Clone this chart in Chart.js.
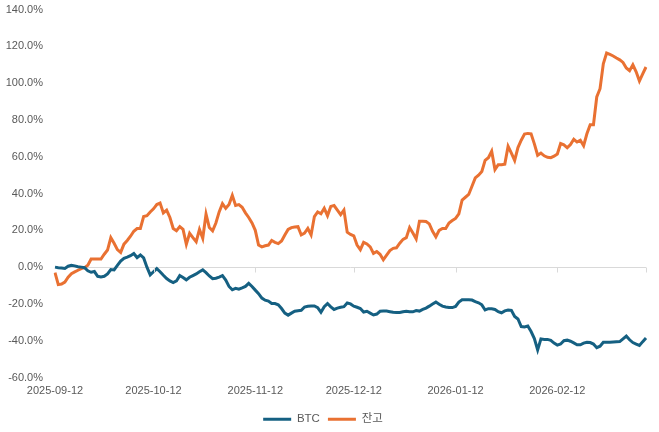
<!DOCTYPE html>
<html>
<head>
<meta charset="utf-8">
<script src="https://cdn.jsdelivr.net/npm/chart.js@4"></script>
<style>
  html, body { margin: 0; padding: 0; background: #fff; }
  #caja { width: 659px; height: 432px; }
</style>
</head>
<body>
<div id="caja"><canvas id="grafica"></canvas></div>
<script>
// dias desde 2025-09-12 (uno por dia)
var fecha_inicio = "2025-09-12"
var numero_dias = 181

var etiquetas_eje = ["2025-09-12", "2025-10-12", "2025-11-12", "2025-12-12", "2026-01-12", "2026-02-12"]

var btc = [
  0.0, -0.3, -0.5, -0.7, 0.5, 1.0, 0.7, 0.2, 0.0, -0.3,
  -2.0, -2.8, -2.4, -5.0, -5.3, -5.0, -3.7, -1.3, -1.5, 1.0,
  3.3, 4.8, 5.4, 6.2, 7.4, 5.2, 6.6, 5.0, 0.0, -4.2,
  -2.5, -0.8, -2.5, -4.4, -6.2, -7.5, -8.4, -7.5, -4.6, -5.6,
  -6.9, -5.5, -4.6, -3.7, -2.5, -1.5, -3.0, -4.8, -6.3, -6.0,
  -5.4, -4.6, -7.0, -10.5, -12.3, -11.5, -12.0, -11.3, -10.5, -8.8,
  -10.5, -12.5, -14.4, -16.8, -18.0, -18.5, -19.8, -19.8, -20.5, -22.5,
  -25.0, -26.1, -25.0, -24.0, -23.7, -23.5, -21.7, -21.3, -21.1, -21.1,
  -22.0, -24.5, -21.5, -19.8, -21.6, -23.0, -22.3, -21.8, -21.5, -19.5,
  -20.0, -21.2, -21.8, -22.5, -24.4, -24.0, -25.0, -26.0, -25.5, -24.0,
  -23.9, -23.9, -24.2, -24.5, -24.7, -24.7, -24.3, -24.0, -24.2, -24.3,
  -23.6, -23.9, -23.0, -22.3, -21.2, -20.0, -19.0, -20.2, -21.2, -21.7,
  -22.0, -22.0, -21.4, -19.0, -17.7, -17.7, -17.7, -17.9, -18.8, -19.4,
  -20.5, -23.3, -22.6, -22.6, -23.0, -24.2, -24.8, -23.8, -23.3, -23.5,
  -26.8, -28.2, -32.3, -32.5, -32.0, -35.0, -38.8, -45.0, -39.0, -39.3,
  -39.3, -39.8, -41.3, -42.4, -41.8, -40.0, -39.7, -40.3, -41.2, -42.2,
  -42.2, -41.3, -40.8, -41.0, -41.8, -43.8, -43.0, -40.8, -40.8, -40.8,
  -40.7, -40.6, -40.5, -39.0, -37.5, -39.5, -41.0, -41.8, -42.6, -40.5,
  -38.5
]

var saldo = [
  -3.0, -9.5, -9.2, -8.1, -5.5, -3.6, -2.6, -1.7, -0.8, -0.3,
  1.0, 4.4, 4.4, 4.4, 4.4, 7.0, 9.3, 16.0, 13.0, 9.5,
  8.0, 12.5, 14.5, 16.8, 19.5, 21.0, 21.0, 27.5, 28.0, 30.0,
  31.7, 34.0, 34.8, 29.5, 31.0, 27.0, 21.0, 19.8, 22.0, 20.5,
  12.4, 18.4, 16.0, 13.8, 20.5, 15.7, 28.8, 21.5, 19.7, 24.0,
  30.0, 34.5, 32.0, 34.0, 39.0, 33.5, 34.0, 32.5, 29.5, 27.0,
  24.0, 20.0, 12.0, 11.0, 11.6, 12.0, 14.5, 13.5, 12.8, 14.2,
  17.5, 20.5, 21.5, 21.8, 22.0, 17.5, 18.5, 21.0, 17.5, 27.5,
  30.0, 29.0, 32.0, 28.0, 33.0, 33.5, 31.0, 28.5, 31.0, 19.0,
  17.8, 17.0, 12.0, 9.5, 13.5, 12.6, 11.0, 7.5, 8.5, 7.0,
  4.0, 6.5, 9.0, 10.2, 10.5, 13.0, 15.1, 16.0, 21.5, 18.5,
  15.3, 24.9, 24.9, 24.8, 23.5, 19.5, 16.5, 20.0, 21.0, 21.0,
  24.0, 25.3, 26.5, 29.0, 36.5, 38.0, 39.5, 44.0, 48.5, 50.0,
  52.0, 58.0, 59.5, 63.0, 53.0, 55.7, 55.7, 56.0, 65.7, 62.0,
  58.0, 65.0, 69.0, 72.3, 72.7, 72.5, 67.0, 60.8, 62.0, 60.5,
  59.7, 59.5, 60.3, 61.5, 67.2, 66.5, 64.9, 66.7, 69.5, 68.0,
  69.0, 66.0, 72.5, 77.4, 77.4, 92.5, 97.0, 110.5, 116.4, 115.6,
  114.8, 113.7, 112.7, 111.3, 108.3, 106.8, 110.0, 106.2, 101.2, 105.0,
  108.8
]

function crear_fechas(inicio, n) {
    var partes = inicio.split("-")
    var lista = []
    for (var i = 0; i < n; i++) {
        var d = new Date(Date.UTC(+partes[0], +partes[1] - 1, +partes[2] + i))
        lista.push(d.toISOString().slice(0, 10))
    }
    return lista
}
var fechas = crear_fechas(fecha_inicio, numero_dias)

var color_texto = "#595959"
var fuente = "'Liberation Sans', Arial, 'Noto Sans CJK KR', sans-serif"

// marcas pequenas bajo la linea del 0, como en excel
var marcas_cero = {
    id: "marcas_cero",
    afterDatasetsDraw(chart) {
        var ctx = chart.ctx, x = chart.scales.x, y = chart.scales.y
        var y0 = Math.round(y.getPixelForValue(0)) + 0.5
        ctx.save()
        ctx.strokeStyle = "#d9d9d9"
        ctx.lineWidth = 1
        ctx.beginPath()
        etiquetas_eje.forEach(function (f) {
            var i = fechas.indexOf(f)
            if (i <= 0) return
            var px = Math.round(x.getPixelForValue(i)) + 0.5
            ctx.moveTo(px, y0)
            ctx.lineTo(px, y0 + 5)
        })
        var fin = Math.round(chart.chartArea.right) + 0.5
        ctx.moveTo(fin, y0)
        ctx.lineTo(fin, y0 + 5)
        ctx.stroke()
        ctx.restore()
    }
}

var carga = {
    type: "line",
    data: {
        labels: fechas,
        datasets: [
            { label: "BTC", data: btc, borderColor: "#156082", backgroundColor: "#156082",
              borderWidth: 3, pointRadius: 0, tension: 0, order: 1 },
            { label: "잔고", data: saldo, borderColor: "#E97132", backgroundColor: "#E97132",
              borderWidth: 3, pointRadius: 0, tension: 0, order: 2 }
        ]
    },
    options: {
        responsive: true,
        maintainAspectRatio: false,
        animation: false,
        layout: { padding: { top: 0, right: 13, left: 0, bottom: -3 } },
        plugins: {
            tooltip: { enabled: false },
            legend: {
                position: "bottom",
                labels: {
                    usePointStyle: true,
                    pointStyle: "line",
                    pointStyleWidth: 28,
                    boxHeight: 3,
                    padding: 8,
                    color: color_texto,
                    font: { family: fuente, size: 11.5 }
                }
            }
        },
        scales: {
            x: {
                afterFit: function (s) { s.height = 28 },
                grid: { display: false, drawTicks: false },
                border: { display: false },
                ticks: {
                    autoSkip: false,
                    maxRotation: 0,
                    padding: 7,
                    color: color_texto,
                    font: { family: fuente, size: 11 },
                    callback: function (v) {
                        var f = fechas[v]
                        return etiquetas_eje.indexOf(f) >= 0 ? f : null
                    }
                }
            },
            y: {
                min: -60, max: 140,
                afterFit: function (s) { s.width = 55 },
                border: { display: false },
                grid: {
                    drawTicks: true,
                    tickLength: 9,
                    tickColor: "rgba(0,0,0,0)",
                    color: function (c) { return c.tick && c.tick.value === 0 ? "#d9d9d9" : "rgba(0,0,0,0)" }
                },
                ticks: {
                    stepSize: 20,
                    padding: 3,
                    color: color_texto,
                    font: { family: fuente, size: 11 },
                    callback: function (v) { return v.toFixed(1) + "%" }
                }
            }
        }
    },
    plugins: [marcas_cero]
}

var grafica = new Chart(document.getElementById("grafica"), carga)
</script>
</body>
</html>
